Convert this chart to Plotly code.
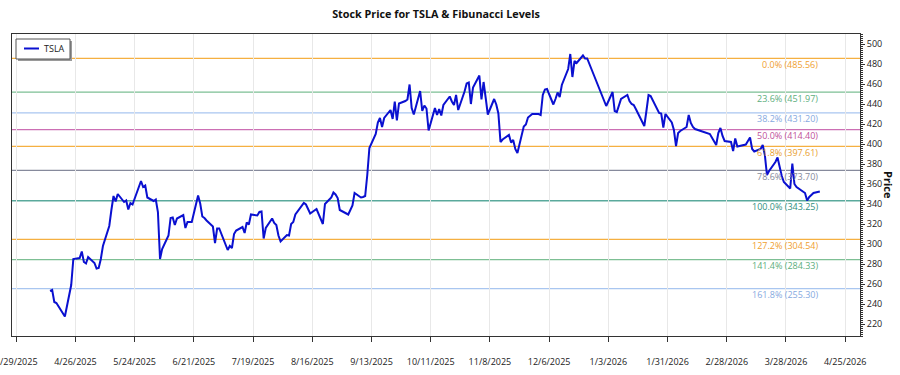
import plotly.graph_objects as go

# ---------------- data ----------------
dates = [
    "2025-04-14", "2025-04-15", "2025-04-16", "2025-04-17", "2025-04-21", "2025-04-23", "2025-04-24", "2025-04-25",
    "2025-04-28", "2025-04-29", "2025-04-30", "2025-05-01", "2025-05-02", "2025-05-05", "2025-05-06", "2025-05-07",
    "2025-05-08", "2025-05-09", "2025-05-12", "2025-05-13", "2025-05-14", "2025-05-15", "2025-05-16", "2025-05-19",
    "2025-05-20", "2025-05-21", "2025-05-22", "2025-05-23", "2025-05-27", "2025-05-28", "2025-05-29", "2025-05-30",
    "2025-06-02", "2025-06-03", "2025-06-04", "2025-06-05", "2025-06-06", "2025-06-09", "2025-06-10", "2025-06-11",
    "2025-06-12", "2025-06-13", "2025-06-16", "2025-06-17", "2025-06-18", "2025-06-20", "2025-06-23", "2025-06-24",
    "2025-06-25", "2025-06-26", "2025-06-27", "2025-06-30", "2025-07-01", "2025-07-02", "2025-07-03", "2025-07-07",
    "2025-07-08", "2025-07-09", "2025-07-10", "2025-07-11", "2025-07-14", "2025-07-15", "2025-07-16", "2025-07-17",
    "2025-07-18", "2025-07-21", "2025-07-22", "2025-07-23", "2025-07-24", "2025-07-25", "2025-07-28", "2025-07-29",
    "2025-07-30", "2025-07-31", "2025-08-01", "2025-08-04", "2025-08-05", "2025-08-06", "2025-08-07", "2025-08-08",
    "2025-08-11", "2025-08-12", "2025-08-13", "2025-08-14", "2025-08-15", "2025-08-18", "2025-08-19", "2025-08-20",
    "2025-08-21", "2025-08-22", "2025-08-25", "2025-08-26", "2025-08-27", "2025-08-28", "2025-08-29", "2025-09-02",
    "2025-09-03", "2025-09-04", "2025-09-05", "2025-09-08", "2025-09-09", "2025-09-10", "2025-09-11", "2025-09-12",
    "2025-09-15", "2025-09-16", "2025-09-17", "2025-09-18", "2025-09-19", "2025-09-22", "2025-09-23", "2025-09-24",
    "2025-09-25", "2025-09-26", "2025-09-29", "2025-09-30", "2025-10-01", "2025-10-02", "2025-10-03", "2025-10-06",
    "2025-10-07", "2025-10-08", "2025-10-09", "2025-10-10", "2025-10-13", "2025-10-14", "2025-10-15", "2025-10-16",
    "2025-10-17", "2025-10-20", "2025-10-21", "2025-10-22", "2025-10-23", "2025-10-24", "2025-10-27", "2025-10-28",
    "2025-10-29", "2025-10-30", "2025-10-31", "2025-11-03", "2025-11-04", "2025-11-05", "2025-11-06", "2025-11-07",
    "2025-11-10", "2025-11-11", "2025-11-12", "2025-11-13", "2025-11-14", "2025-11-17", "2025-11-18", "2025-11-19",
    "2025-11-20", "2025-11-21", "2025-11-24", "2025-11-25", "2025-11-26", "2025-11-28", "2025-12-01", "2025-12-02",
    "2025-12-03", "2025-12-04", "2025-12-05", "2025-12-08", "2025-12-09", "2025-12-10", "2025-12-11", "2025-12-12",
    "2025-12-15", "2025-12-16", "2025-12-17", "2025-12-18", "2025-12-19", "2025-12-22", "2025-12-23", "2025-12-24",
    "2025-12-26", "2025-12-29", "2025-12-30", "2025-12-31", "2026-01-02", "2026-01-05", "2026-01-06", "2026-01-07",
    "2026-01-08", "2026-01-09", "2026-01-12", "2026-01-13", "2026-01-14", "2026-01-15", "2026-01-16", "2026-01-20",
    "2026-01-21", "2026-01-22", "2026-01-23", "2026-01-26", "2026-01-27", "2026-01-28", "2026-01-29", "2026-01-30",
    "2026-02-02", "2026-02-03", "2026-02-04", "2026-02-05", "2026-02-06", "2026-02-09", "2026-02-10", "2026-02-11",
    "2026-02-12", "2026-02-13", "2026-02-17", "2026-02-18", "2026-02-19", "2026-02-20", "2026-02-23", "2026-02-24",
    "2026-02-25", "2026-02-26", "2026-02-27", "2026-03-02", "2026-03-03", "2026-03-04", "2026-03-05", "2026-03-06",
    "2026-03-09", "2026-03-10", "2026-03-11", "2026-03-12", "2026-03-13", "2026-03-16", "2026-03-17", "2026-03-18",
    "2026-03-19", "2026-03-20", "2026-03-23", "2026-03-24", "2026-03-25", "2026-03-26", "2026-03-27", "2026-03-30",
    "2026-03-31", "2026-04-01", "2026-04-02", "2026-04-06", "2026-04-07", "2026-04-08", "2026-04-09", "2026-04-10",
    "2026-04-13",
]

prices = [
    253, 254, 242, 241, 227.5, 250, 259, 285,
    286, 292.5, 282, 280.5, 287, 281, 275.5, 276,
    285, 298, 318, 334, 348, 342.5, 350, 342,
    343.5, 334.5, 341, 339.5, 363, 357, 358.5, 346.5,
    343, 344.5, 332, 285, 295, 308.5, 326, 326.5,
    319, 325.5, 329, 316, 322, 322, 348.5, 340.5,
    327.5, 326, 323.5, 317.5, 301, 315.5, 315.5, 294,
    298, 296, 310, 313.5, 317, 311, 321.5, 319.5,
    329.5, 328.5, 332, 332.5, 305.5, 316, 325.5, 321,
    319, 308.5, 302.5, 309, 308.5, 320, 322, 329.5,
    339, 341, 339.5, 335.5, 330.5, 335, 329.5, 324,
    320, 340, 346.5, 351.5, 349.5, 346, 334, 329.5,
    334, 338.5, 351, 346.5, 347, 348, 369, 396,
    410, 421.5, 426, 417, 426, 434, 425, 442.5,
    423.5, 440.5, 443, 444.5, 459.5, 436, 429.5, 453,
    433, 438.5, 435.5, 413.5, 436, 429, 435, 428.5,
    439, 447.5, 442.5, 439, 449, 434, 452.5, 460.5,
    461.5, 440, 456.5, 468.5, 444.5, 462, 446, 429.5,
    445, 439.5, 430.5, 402, 404.5, 409, 401.5, 404,
    395, 391, 417.5, 419.5, 426.5, 430, 430, 429,
    449, 454.5, 455, 439.5, 445, 451.5, 447, 459,
    475, 490, 467, 483, 481, 488.5, 485.5, 485.5,
    475, 459.5, 454.5, 449.5, 438, 452, 433, 432,
    438, 445, 449, 443, 440, 439, 435, 418,
    433, 449, 448, 436, 431, 430.5, 416.5, 430,
    421.5, 414, 398, 411, 413, 417, 429, 421,
    417, 415, 412, 412, 411, 410, 399, 411,
    416, 408, 403, 402, 393, 405.5, 397.5, 398,
    399.5, 403, 406.5, 395, 392.5, 395, 399, 389,
    369, 373, 382, 386.5, 376, 368, 362, 355.5,
    380.5, 360, 357, 351, 343.5, 347, 349, 351,
    352.5,
]

fib_ratios = ["0.0%", "23.6%", "38.2%", "50.0%", "61.8%", "78.6%", "100.0%", "127.2%", "141.4%", "161.8%"]
fib_levels = [485.56, 451.97, 431.20, 414.40, 397.61, 373.70, 343.25, 304.54, 284.33, 255.30]
fib_line_colors = ["#f5b041", "#7dbf94", "#a9c6f0", "#cc6fb4", "#f5b041", "#868a9c",
                   "#5aa99c", "#f5b041", "#7dbf94", "#a9c6f0"]
fib_text_colors = ["#f0a030", "#5cae7c", "#86a9e0", "#c0509a", "#e9a030", "#85899a",
                   "#2f8f80", "#f0a030", "#5cae7c", "#86a9e0"]

x_ticks = ["2025-03-29", "2025-04-26", "2025-05-24", "2025-06-21", "2025-07-19", "2025-08-16",
           "2025-09-13", "2025-10-11", "2025-11-08", "2025-12-06", "2026-01-03", "2026-01-31",
           "2026-02-28", "2026-03-28", "2026-04-25"]
x_tick_labels = ["3/29/2025", "4/26/2025", "5/24/2025", "6/21/2025", "7/19/2025", "8/16/2025",
                 "9/13/2025", "10/11/2025", "11/8/2025", "12/6/2025", "1/3/2026", "1/31/2026",
                 "2/28/2026", "3/28/2026", "4/25/2026"]
x_range = ["2025-03-27", "2026-05-02"]
y_range = [208, 510]

FONT = "Open Sans, Noto Sans, sans-serif"
W, H = 900, 375
L, R, T, B = 12, 40, 34, 39
PW, PH = W - L - R, H - T - B


def px_x(px):
    return (px - L) / PW


def px_y(py):
    return (H - B - py) / PH


fig = go.Figure()

# Fibonacci level lines
for lvl, col in zip(fib_levels, fib_line_colors):
    fig.add_shape(type="line", xref="paper", x0=0, x1=1, yref="y", y0=lvl, y1=lvl,
                  line=dict(color=col, width=1.3), layer="below")

fig.add_trace(go.Scatter(x=dates, y=prices, mode="lines", name="TSLA",
                         line=dict(color="#0a10d0", width=2), showlegend=False))

# Fibonacci labels
for r, lvl, col in zip(fib_ratios, fib_levels, fib_text_colors):
    fig.add_annotation(xref="paper", x=px_x(820), yref="y", y=lvl, yshift=-6,
                       xanchor="right", yanchor="middle", showarrow=False,
                       text=f"{r} ({lvl:.2f})", font=dict(family=FONT, size=9, color=col))

# legend box (drawn manually to match the compact framed legend)
fig.add_shape(type="rect", xref="paper", yref="paper", x0=px_x(18), x1=px_x(72),
              y0=px_y(61), y1=px_y(41), line=dict(width=0), fillcolor="#9a9a9a", layer="above")
fig.add_shape(type="rect", xref="paper", yref="paper", x0=px_x(16), x1=px_x(70),
              y0=px_y(59), y1=px_y(39), line=dict(color="#555", width=1), fillcolor="white",
              layer="above")
fig.add_shape(type="line", xref="paper", yref="paper", x0=px_x(24), x1=px_x(39),
              y0=px_y(48.5), y1=px_y(48.5), line=dict(color="#0a10d0", width=2), layer="above")
fig.add_annotation(xref="paper", yref="paper", x=px_x(42), y=px_y(48.5), xanchor="left",
                   yanchor="middle", showarrow=False, text="TSLA",
                   font=dict(family=FONT, size=9, color="#222"))

# right-side rotated axis title
fig.add_annotation(xref="paper", x=px_x(889), yref="paper", y=0.5, xanchor="center", yanchor="middle",
                   showarrow=False, textangle=90, text="<b>Price</b>",
                   font=dict(family=FONT, size=11, color="#111"))

fig.update_layout(
    width=W, height=H,
    margin=dict(l=L, r=R, t=T, b=B, autoexpand=False),
    paper_bgcolor="white", plot_bgcolor="white",
    title=dict(text="<b>Stock Price for TSLA & Fibunacci Levels</b>", x=436 / W, xanchor="center",
               y=1 - 14 / H, yanchor="middle", font=dict(family=FONT, size=10.8, color="#111")),
    font=dict(family=FONT, size=9, color="#222"),
    showlegend=False,
    xaxis=dict(type="date", range=x_range, tickvals=x_ticks, ticktext=x_tick_labels,
               showgrid=True, gridcolor="#e8e8e8", gridwidth=1, zeroline=False,
               showline=True, linecolor="#333", linewidth=1, mirror=True,
               ticks="outside", ticklen=5, tickcolor="#333", ticklabelstandoff=12,
               ticklabeloverflow="allow", automargin=False,
               tickfont=dict(family=FONT, size=9, color="#222")),
    yaxis=dict(range=y_range, side="right", dtick=20, tick0=0, showgrid=False, zeroline=False,
               showline=True, linecolor="#333", linewidth=1, mirror=True,
               ticks="outside", ticklen=4, tickcolor="#333", automargin=False,
               ticklabeloverflow="allow",
               minor=dict(ticks="outside", ticklen=2, dtick=2, tickcolor="#333"),
               tickfont=dict(family=FONT, size=9, color="#222")),
)

fig.write_html("out.html", config={"displayModeBar": False},
               post_script="document.body.style.margin='0';document.body.style.padding='0';")
